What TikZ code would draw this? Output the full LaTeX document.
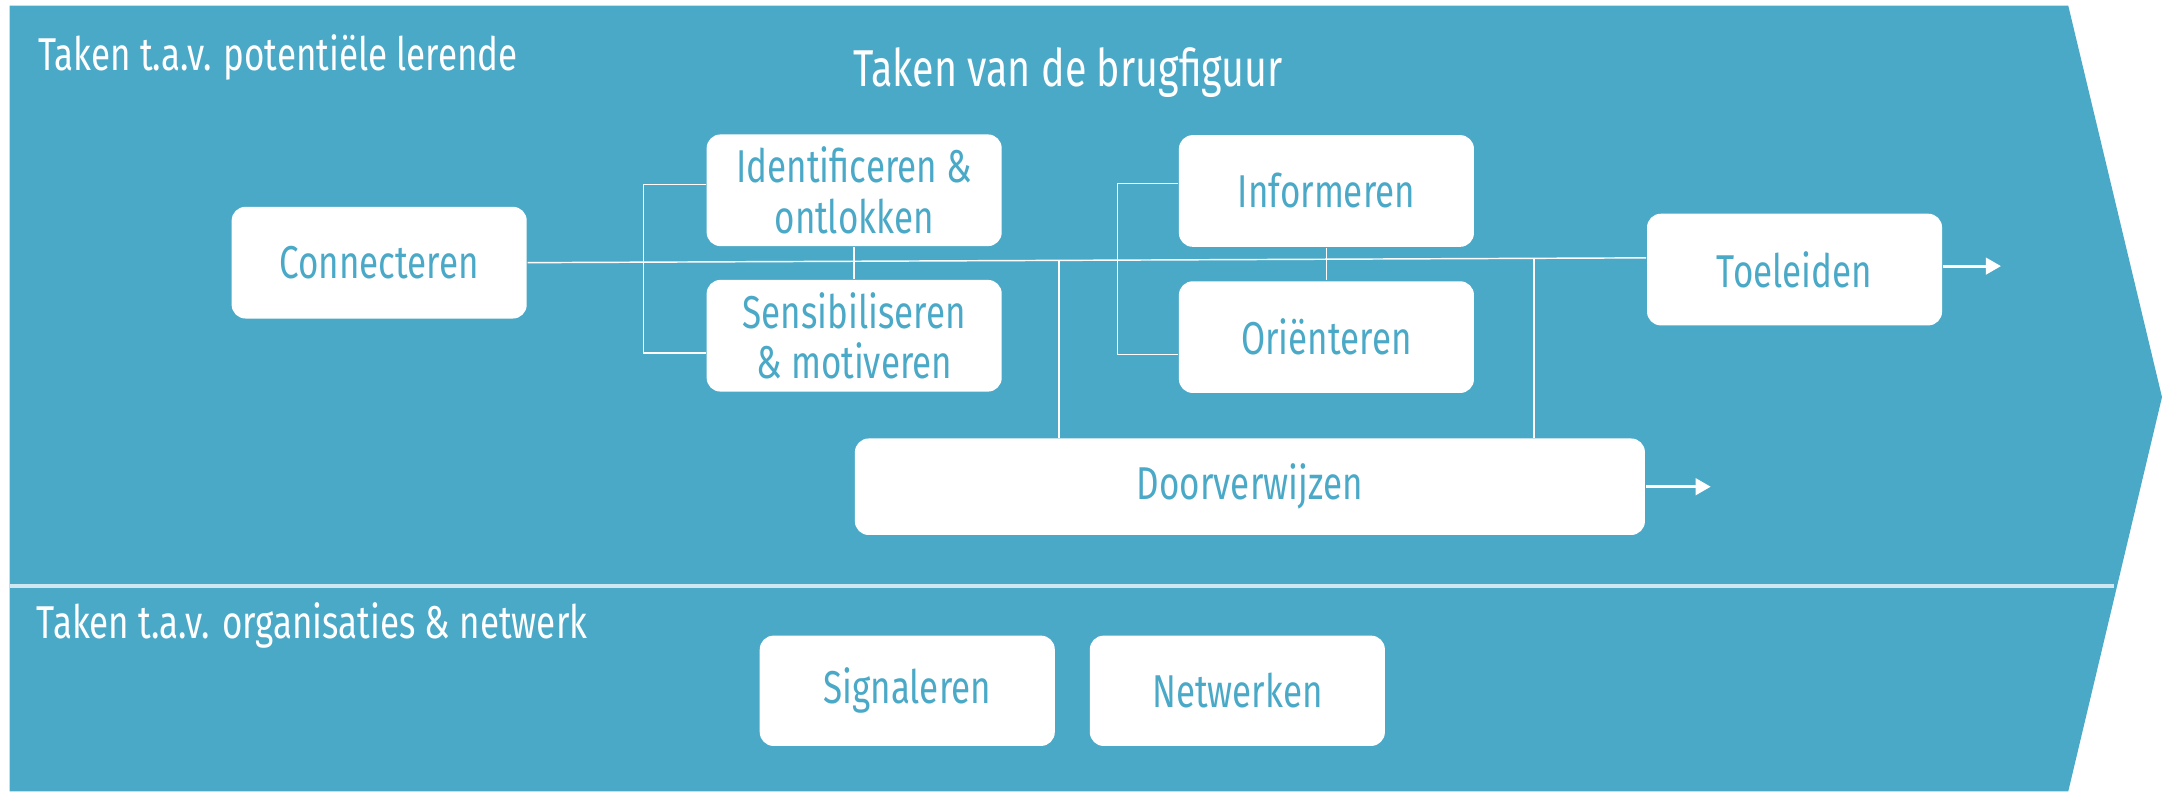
\documentclass[tikz,border=0pt]{standalone}
\usepackage{fontspec}
\setmainfont{Fira Sans}[FakeStretch=0.76]
\usepackage{tikz}
\usetikzlibrary{arrows.meta}
\usetikzlibrary{positioning}
\definecolor{bridgeblue}{HTML}{4BA9C8}
\definecolor{sepblue}{HTML}{CFE7F0}
\tikzset{
  task/.style = {fill = white, rounded corners = 1mm, text = bridgeblue,
    minimum width = 21.4mm, minimum height = 8.1mm, align = center,
    font = \fontsize{9.5}{10.4}\selectfont, inner sep = 0pt},
  heading/.style = {text = white, inner sep = 0pt, anchor = base west,
    font = \fontsize{9.5}{11}\selectfont},
  link/.style = {draw = white, line width = 0.3pt},
  outarrow/.style = {draw = white, line width = 0.6pt,
    -{Triangle[length = 1.1mm, width = 1.2mm]}}
}

\begin{document}
\begin{tikzpicture}[x = 0.1mm, y = -0.1mm]
  \useasboundingbox (0, 0) rectangle (1568, 574);
  % background arrow
  \fill [bridgeblue] (7, 4) -- (1500, 4) -- (1568, 288) -- (1500, 574) -- (7, 574) -- cycle;
  \draw [sepblue, line width = 0.8pt] (7, 425) -- (1533, 425);
  % headings
  \node [heading] (lerende) at (27, 51) {Taken t.a.v. potentiële lerende};
  \node [heading, font = \fontsize{10.7}{12}\selectfont] (titel) at (618, 63) {Taken van de brugfiguur};
  \node [heading] (organisaties) at (26, 463) {Taken t.a.v. organisaties \& netwerk};
  % nodes
  \node [task] (conn) at (275, 190.5) {Connecteren};
  \node [task] (ident) at (619.5, 138) {Identificeren \&\\ontlokken};
  \node [task] (sens) at (619.5, 243.5) {Sensibiliseren\\\& motiveren};
  \node [task] (inform) at (962, 138.5) {Informeren};
  \node [task] (orient) at (962, 244.5) {Oriënteren};
  \node [task] (toel) at (1301.5, 195.5) {Toeleiden};
  \node [task, minimum width = 57.3mm, minimum height = 7mm] (door) at (906.5, 353) {Doorverwijzen};
  \node [task, minimum height = 8mm] (sign) at (658, 501) {Signaleren};
  \node [task, minimum height = 8mm, right = 2.4mm of sign] (netw) {Netwerken};
  % connectors
  \draw [link] (conn.east) -- coordinate [pos = 0.475] (j1) coordinate [pos = 0.9] (j2)
    ([yshift = 0.85mm] toel.west);
  \draw [link] (j1) -- (j1 |- door.north);
  \draw [link] (j2) -- (j2 |- door.north);
  \draw [link] (ident.south) -- (sens.north);
  \draw [link] (inform.south) -- (orient.north);
  \draw [link] ([yshift = 0.4mm] ident.west) -- ++(-45, 0) |- ([yshift = -1.25mm] sens.west);
  \draw [link] ([yshift = 0.55mm] inform.west) -- ++(-44, 0) |- ([yshift = -1.25mm] orient.west);
  \draw [outarrow] ([yshift = 0.25mm] toel.east) -- ++(42, 0);
  \draw [outarrow] (door.east) -- ++(47, 0);
\end{tikzpicture}
\end{document}
